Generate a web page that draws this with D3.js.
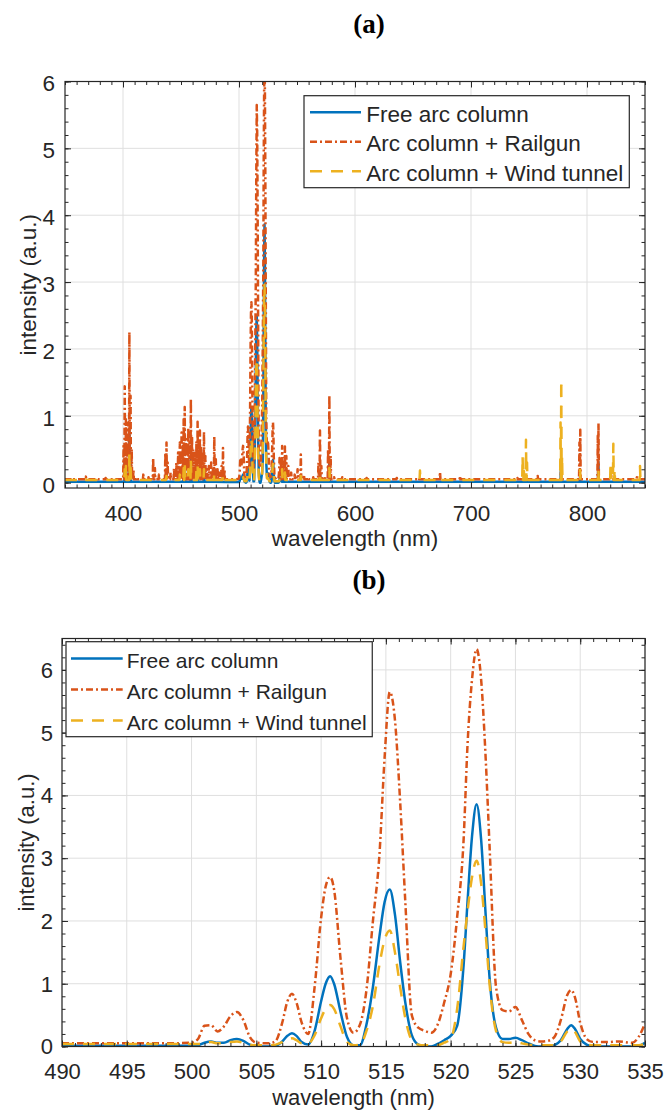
<!DOCTYPE html>
<html>
<head>
<meta charset="utf-8">
<script src="https://cdnjs.cloudflare.com/ajax/libs/d3/7.8.5/d3.min.js"></script>
<style>
  body { margin: 0; background: #fff; }
  svg text { font-family: "Liberation Sans", Arial, Helvetica, sans-serif; fill: #262626; }
  svg text.title { font-family: "Liberation Serif", "Times New Roman", serif; font-weight: bold; fill: #000; }
</style>
</head>
<body>
<svg id="chart" width="666" height="1112"></svg>
<script>

// panel (b): 490-535 nm
var bWave = [490, 492, 494, 496, 498, 500, 500.5, 501, 501.5, 502, 502.5, 503, 503.5, 504, 504.5,
  505, 506, 506.5, 507, 507.4, 507.75, 508.1, 508.5, 509, 509.5, 510, 510.35, 510.7, 511, 511.5,
  512, 512.5, 513, 513.5, 514, 514.5, 514.9, 515.3, 515.7, 516.1, 516.5, 517, 517.5, 518, 518.5,
  519, 519.5, 520, 520.5, 521, 521.3, 521.65, 522, 522.35, 522.7, 523, 523.5, 524, 524.5, 525,
  525.5, 526, 526.5, 527, 527.5, 528, 528.5, 529, 529.3, 529.6, 530, 530.5, 531, 532, 533, 534, 534.5, 535];

var bFree = [0.01, 0.01, 0.01, 0.01, 0.01, 0.01, 0.02, 0.06, 0.08, 0.06, 0.06, 0.1, 0.12, 0.09, 0.03,
  0.01, 0, 0.01, 0.08, 0.17, 0.21, 0.17, 0.07, 0.03, 0.25, 0.72, 1.0, 1.12, 1.0, 0.55,
  0.15, 0.02, 0.02, 0.35, 0.95, 1.75, 2.3, 2.5, 2.1, 1.35, 0.7, 0.18, 0.03, 0, 0,
  0.04, 0.1, 0.17, 0.33, 1.3, 2.3, 3.35, 3.86, 3.3, 2.1, 1.1, 0.3, 0.12, 0.12, 0.14,
  0.1, 0.05, 0.01, 0, 0, 0.02, 0.1, 0.28, 0.34, 0.28, 0.12, 0.03, 0, 0, 0, 0, 0.01, 0.06];

var bRail = [0.05, 0.05, 0.05, 0.05, 0.05, 0.06, 0.12, 0.33, 0.34, 0.24, 0.32, 0.48, 0.55, 0.42, 0.15,
  0.06, 0.05, 0.09, 0.38, 0.72, 0.84, 0.7, 0.38, 0.2, 0.95, 2.05, 2.55, 2.7, 2.5, 1.4,
  0.45, 0.22, 0.35, 0.9, 2.0, 3.05, 4.6, 5.65, 5.2, 3.9, 2.3, 0.5, 0.3, 0.25, 0.22,
  0.35, 0.7, 1.15, 2.06, 3.3, 4.8, 5.85, 6.33, 5.85, 4.6, 3.2, 0.95, 0.58, 0.56, 0.63,
  0.42, 0.2, 0.1, 0.08, 0.09, 0.15, 0.42, 0.82, 0.9, 0.78, 0.38, 0.12, 0.07, 0.07, 0.08, 0.06, 0.15, 0.37];

var bWind = [0.04, 0.04, 0.04, 0.04, 0.04, 0.04, 0.04, 0.06, 0.07, 0.05, 0.05, 0.07, 0.08, 0.06, 0.03,
  0.02, 0.02, 0.03, 0.07, 0.11, 0.13, 0.1, 0.05, 0.05, 0.18, 0.45, 0.6, 0.66, 0.6, 0.32,
  0.07, 0.02, 0.03, 0.25, 0.65, 1.3, 1.7, 1.85, 1.5, 0.95, 0.45, 0.1, 0.03, 0.02, 0.02,
  0.02, 0.06, 0.12, 0.6, 1.6, 2.15, 2.7, 2.96, 2.6, 1.8, 1.0, 0.25, 0.07, 0.06, 0.07,
  0.05, 0.03, 0.02, 0.02, 0.02, 0.02, 0.08, 0.24, 0.28, 0.23, 0.08, 0.03, 0.02, 0.02, 0.02, 0.02, 0.02, 0.04];

// panel (a): emission lines outside 490-535 nm, [wavelength, peak intensity]
var aFreePeaks = [[401.5, 0.3], [402.5, 0.2], [405.5, 0.79], [406.5, 0.35], [452.3, 0.2], [453.2, 0.34],
  [458.5, 0.39], [464.3, 0.2], [469.8, 0.15], [478.7, 0.12], [537.2, 0.12], [539.6, 0.1],
  [569.8, 0.12], [577.9, 0.3], [777.5, 0.23], [794, 0.08], [809.8, 0.31]];

var aRailPeaks = [[356, 0.07], [368, 0.09], [378, 0.06], [385, 0.07], [393, 0.06],
  [400.5, 0.55], [401.5, 1.44], [402.5, 0.95], [403.5, 0.6], [404.5, 0.9], [405.5, 2.25], [406.5, 1.3],
  [407.5, 0.5], [409, 0.2], [412, 0.08], [417.5, 0.12], [422, 0.08], [426, 0.37], [427.5, 0.22],
  [431, 0.12], [436.5, 0.45], [437.5, 0.6], [438.5, 0.3], [441, 0.15], [444, 0.22], [446, 0.3],
  [447.5, 0.45], [449, 0.6], [450.5, 0.75], [451.5, 0.55], [452.3, 0.95], [453.2, 1.13], [454.5, 0.65],
  [455.5, 0.5], [456.3, 0.82], [457.3, 0.6], [458.5, 1.25], [459.5, 0.7], [460.5, 0.5], [461.5, 0.35],
  [462.5, 0.45], [463.3, 0.62], [464.3, 0.91], [465.2, 0.6], [466.3, 0.78], [467.3, 0.55], [468.5, 0.45],
  [469.8, 0.76], [471, 0.4], [472.5, 0.2], [474, 0.25], [476, 0.3], [477.5, 0.2], [478.7, 0.69],
  [480, 0.35], [481.5, 0.2], [483, 0.15], [485, 0.25], [486.2, 0.52], [487.5, 0.2],
  [536.3, 0.3], [537.2, 0.55], [538.5, 0.35], [539.6, 0.54], [540.8, 0.4], [542.5, 0.25], [545, 0.15],
  [548, 0.12], [550.5, 0.2], [553.3, 0.42], [556, 0.12], [560, 0.08], [564, 0.08], [568.5, 0.3],
  [569.8, 0.78], [571, 0.25], [574, 0.1], [576.8, 0.5], [577.9, 1.31], [579, 0.4], [582, 0.08],
  [589, 0.08], [610, 0.07], [636, 0.07], [655, 0.07], [673.3, 0.16], [690.5, 0.1], [740, 0.07],
  [746, 0.1], [757.5, 0.1], [777.5, 0.15], [793.5, 0.6], [794.2, 0.79], [809.3, 0.7], [809.9, 0.89],
  [821, 0.1], [843, 0.08]];

var aWindPeaks = [[368, 0.05], [401.5, 0.2], [402.5, 0.25], [405.5, 0.44], [406.5, 0.3], [437.5, 0.1],
  [449, 0.12], [452.3, 0.22], [453.2, 0.3], [456.3, 0.2], [458.5, 0.35], [463.3, 0.2], [464.3, 0.27],
  [466.3, 0.2], [469.8, 0.2], [478.7, 0.15], [486.2, 0.12], [537.2, 0.2], [539.6, 0.15], [553.3, 0.1],
  [569.8, 0.15], [577.9, 0.22], [656, 0.18], [673.3, 0.07], [744.5, 0.39], [745.5, 0.25], [747.4, 0.64],
  [748.3, 0.3], [777.2, 0.9], [777.8, 1.53], [778.5, 0.4], [794, 0.19], [809.8, 0.2], [820.3, 0.3],
  [822.7, 0.58], [823.8, 0.2], [845.7, 0.25]];

// background level of each spectrum in panel (a)
var aBase = [0.015, 0.05, 0.04];

var seriesNames = ["Free arc column", "Arc column + Railgun", "Arc column + Wind tunnel"];
var seriesColors = ["#0072BD", "#D95319", "#EDB120"];
var seriesDash = [null, "7,3,2,3", "12,9"];

//////////////////////////////////////////////////////////////////////////////

var svg = d3.select("#chart");
svg.append("rect").attr("width", 666).attr("height", 1112).attr("fill", "#fff");

var axisColor = "#262626";
var gridColor = "#dfdfdf";

var panels = [
  {
    id: "a", title: "(a)", titleY: 33,
    left: 65, right: 645, top: 81.5, bottom: 488,
    xDomain: [350, 850], yDomain: [-0.08, 6],
    xTicks: d3.range(400, 801, 100), xMinor: d3.range(350, 851, 10),
    yTicks: d3.range(0, 7), yMinor: d3.range(0, 6.01, 0.2),
    font: 22.5, xPad: 17, yPad: 10, yDy: "0.42em", xLabelY: 546, yLabelX: 36,
    legend: { x: 304, y: 95.7, h: 92, lineX: [310, 361], textX: 366.3, base: 121.7, step: 29.5, font: 22.5, pad: 6 },
    series: [buildA(aFreePeaks, aBase[0], bFree), buildA(aRailPeaks, aBase[1], bRail), buildA(aWindPeaks, aBase[2], bWind)],
    curve: d3.curveLinear
  },
  {
    id: "b", title: "(b)", titleY: 589,
    left: 62, right: 645, top: 638.5, bottom: 1046.5,
    xDomain: [490, 535], yDomain: [0, 6.5],
    xTicks: d3.range(490, 536, 5), xMinor: d3.range(490, 536, 1),
    yTicks: d3.range(0, 7), yMinor: d3.range(0, 6.41, 0.2),
    font: 22, xPad: 17, yPad: 9, yDy: "0.34em", xLabelY: 1105, yLabelX: 34,
    legend: { x: 66, y: 641.7, h: 95, lineX: [71, 122.7], textX: 126.7, base: 668, step: 31, font: 21, pad: 5.7 },
    series: [bPairs(bFree), bPairs(bRail), bPairs(bWind)],
    curve: d3.curveMonotoneX
  }
];

function bPairs(vals) {
  return bWave.map(function(w, i){ return [w, vals[i]]; });
}

// narrow lines drawn as stems on the background level, joined with the detailed 490-535 part
function buildA(peaks, base, detail) {
  var pts = [[350, base], [850, base]];
  peaks.forEach(function(p){
    pts.push([p[0] - 0.35, base], [p[0], p[1]], [p[0] + 0.35, base]);
  });
  pts = pts.concat(bPairs(detail));
  pts.sort(function(a, b){ return a[0] - b[0]; });
  return pts;
}

panels.forEach(drawPanel);

//////////////////////////////////////////////////////////////////////////////

function drawPanel(p) {

  var x = d3.scaleLinear().domain(p.xDomain).range([p.left, p.right]);
  var y = d3.scaleLinear().domain(p.yDomain).range([p.bottom, p.top]);
  var g = svg.append("g").attr("class", "panel-" + p.id);

  g.append("text")
      .attr("class", "title")
      .attr("x", 369)
      .attr("y", p.titleY)
      .attr("text-anchor", "middle")
      .style("font-size", "27px")
      .text(p.title);

  // grid
  g.append("g").selectAll("line")
      .data(p.xTicks)
      .enter().append("line")
      .attr("x1", function(d){ return x(d); })
      .attr("x2", function(d){ return x(d); })
      .attr("y1", p.top)
      .attr("y2", p.bottom)
      .attr("stroke", gridColor)
      .attr("stroke-width", 1);

  g.append("g").selectAll("line")
      .data(p.yTicks)
      .enter().append("line")
      .attr("x1", p.left)
      .attr("x2", p.right)
      .attr("y1", function(d){ return y(d); })
      .attr("y2", function(d){ return y(d); })
      .attr("stroke", gridColor)
      .attr("stroke-width", 1);

  // spectra
  g.append("clipPath")
      .attr("id", "clip-" + p.id)
    .append("rect")
      .attr("x", p.left)
      .attr("y", p.top)
      .attr("width", p.right - p.left)
      .attr("height", p.bottom - p.top);

  var line = d3.line()
    .x(function(d){ return x(d[0]); })
    .y(function(d){ return y(d[1]); })
    .curve(p.curve);

  g.append("g")
      .attr("clip-path", "url(#clip-" + p.id + ")")
    .selectAll("path")
      .data(p.series)
      .enter().append("path")
      .attr("d", line)
      .attr("fill", "none")
      .attr("stroke", function(d, i){ return seriesColors[i]; })
      .attr("stroke-width", 2.5)
      .attr("stroke-linejoin", "round")
      .attr("stroke-dasharray", function(d, i){ return seriesDash[i]; });

  // axes: inward ticks on all four sides
  var axes = g.append("g").attr("color", axisColor);

  var bottomAxis = axes.append("g")
      .attr("transform", "translate(0," + p.bottom + ")")
      .call(d3.axisBottom(x).tickValues(p.xTicks).tickSize(-6).tickPadding(p.xPad).tickFormat(d3.format("d")));
  axes.append("g")
      .attr("transform", "translate(0," + p.bottom + ")")
      .call(d3.axisBottom(x).tickValues(p.xMinor).tickSize(-3.5).tickFormat(""));
  axes.append("g")
      .attr("transform", "translate(0," + p.top + ")")
      .call(d3.axisTop(x).tickValues(p.xTicks).tickSize(-6).tickFormat(""));
  axes.append("g")
      .attr("transform", "translate(0," + p.top + ")")
      .call(d3.axisTop(x).tickValues(p.xMinor).tickSize(-3.5).tickFormat(""));

  var leftAxis = axes.append("g")
      .attr("transform", "translate(" + p.left + ",0)")
      .call(d3.axisLeft(y).tickValues(p.yTicks).tickSize(-6).tickPadding(p.yPad).tickFormat(d3.format("d")));
  axes.append("g")
      .attr("transform", "translate(" + p.left + ",0)")
      .call(d3.axisLeft(y).tickValues(p.yMinor).tickSize(-3.5).tickFormat(""));
  axes.append("g")
      .attr("transform", "translate(" + p.right + ",0)")
      .call(d3.axisRight(y).tickValues(p.yTicks).tickSize(-6).tickFormat(""));
  axes.append("g")
      .attr("transform", "translate(" + p.right + ",0)")
      .call(d3.axisRight(y).tickValues(p.yMinor).tickSize(-3.5).tickFormat(""));

  axes.selectAll(".domain").remove();
  axes.selectAll(".tick line").attr("stroke-width", 1);
  axes.attr("font-family", null).attr("font-size", null);
  axes.selectAll("g").attr("font-family", null).attr("font-size", null);

  bottomAxis.selectAll("text").style("font-size", p.font + "px");
  leftAxis.selectAll("text").style("font-size", p.font + "px").attr("dy", p.yDy);

  axes.append("rect")
      .attr("x", p.left)
      .attr("y", p.top)
      .attr("width", p.right - p.left)
      .attr("height", p.bottom - p.top)
      .attr("fill", "none")
      .attr("stroke", axisColor)
      .attr("stroke-width", 1.2);

  // axis labels
  g.append("text")
      .attr("x", (p.left + p.right) / 2)
      .attr("y", p.xLabelY)
      .attr("text-anchor", "middle")
      .style("font-size", p.font + "px")
      .text("wavelength (nm)");

  g.append("text")
      .attr("transform", "translate(" + p.yLabelX + "," + ((p.top + p.bottom) / 2) + ") rotate(-90)")
      .attr("text-anchor", "middle")
      .style("font-size", p.font + "px")
      .text("intensity (a.u.)");

  drawLegend(g, p.legend);
}

function drawLegend(g, lg) {

  var leg = g.append("g").attr("class", "legend");
  var box = leg.append("rect")
      .attr("x", lg.x)
      .attr("y", lg.y)
      .attr("height", lg.h)
      .attr("fill", "#fff")
      .attr("stroke", axisColor)
      .attr("stroke-width", 1.2);

  var rows = leg.selectAll(".row")
      .data(seriesNames)
      .enter().append("g")
      .attr("class", "row");

  rows.append("line")
      .attr("x1", lg.lineX[0])
      .attr("x2", lg.lineX[1])
      .attr("y1", function(d, i){ return lg.base + i * lg.step - 9.5; })
      .attr("y2", function(d, i){ return lg.base + i * lg.step - 9.5; })
      .attr("stroke", function(d, i){ return seriesColors[i]; })
      .attr("stroke-width", 2.5)
      .attr("stroke-dasharray", function(d, i){ return seriesDash[i]; });

  var texts = rows.append("text")
      .attr("x", lg.textX)
      .attr("y", function(d, i){ return lg.base + i * lg.step; })
      .style("font-size", lg.font + "px")
      .text(function(d){ return d; });

  var maxLen = d3.max(texts.nodes(), function(n){ return n.getComputedTextLength(); });
  box.attr("width", lg.textX + maxLen + lg.pad - lg.x);
}

</script>
</body>
</html>
